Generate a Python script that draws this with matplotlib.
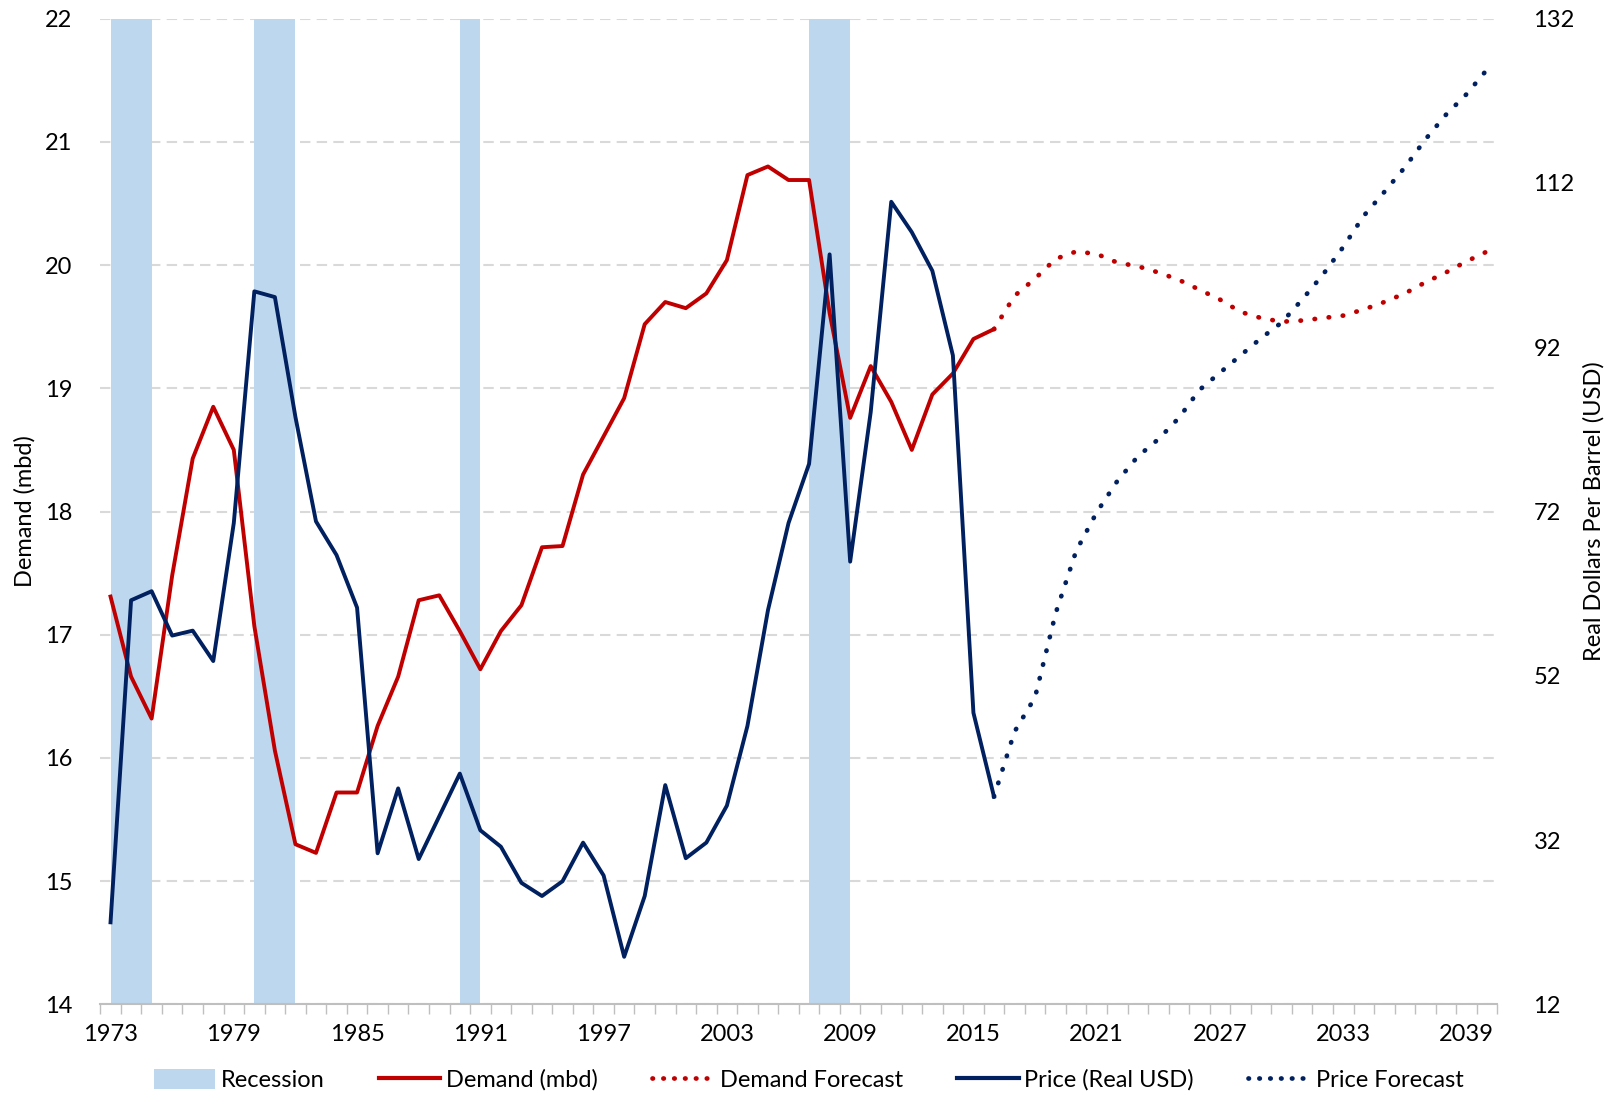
import matplotlib
matplotlib.use("Agg")
import matplotlib.pyplot as plt
from matplotlib.patches import Patch
from matplotlib.lines import Line2D

plt.rcParams['font.family'] = ['Lato', 'DejaVu Sans']

# Historical data
years = list(range(1973, 2017))
demand = [17.31, 16.66, 16.32, 17.48, 18.43, 18.85, 18.50, 17.07, 16.06, 15.30,
          15.23, 15.72, 15.72, 16.26, 16.66, 17.28, 17.32, 17.03, 16.72, 17.03,
          17.24, 17.71, 17.72, 18.30, 18.61, 18.92, 19.52, 19.70, 19.65, 19.77,
          20.04, 20.73, 20.80, 20.69, 20.69, 19.61, 18.76, 19.18, 18.89, 18.50,
          18.95, 19.12, 19.40, 19.48]
price = [22.0, 61.2, 62.3, 56.9, 57.5, 53.8, 70.6, 98.8, 98.1, 83.5,
         70.8, 66.7, 60.3, 30.4, 38.3, 29.7, 34.9, 40.1, 33.2, 31.2,
         26.8, 25.2, 27.0, 31.7, 27.7, 17.8, 25.2, 38.7, 29.8, 31.7,
         36.2, 45.9, 60.0, 70.6, 77.8, 103.3, 65.9, 84.1, 109.7, 106.0,
         101.3, 91.0, 47.5, 37.3]

# Forecasts
fc_years = list(range(2016, 2041))
demand_fc = [19.48, 19.75, 19.89, 20.05, 20.11, 20.09, 20.02, 19.99, 19.94, 19.88,
             19.80, 19.72, 19.62, 19.57, 19.54, 19.55, 19.57, 19.59, 19.64, 19.70,
             19.77, 19.86, 19.94, 20.03, 20.11]
price_fc = [37.3, 45.2, 49.4, 59.6, 67.2, 71.9, 75.7, 78.7, 80.8, 83.4,
            86.8, 88.9, 91.0, 93.1, 95.0, 97.8, 100.8, 104.2, 108.0, 110.9,
            113.9, 117.3, 120.3, 122.8, 125.8]

# Recessions
rec_start = [1973, 1980, 1990, 2007]
rec_end = [1975, 1982, 1991, 2009]

red = '#C00000'
navy = '#002060'
rec_color = '#BDD7EE'
fs = 17
dots = (0, (0.1, 2.9))

fig = plt.figure(figsize=(16.17, 10.93), dpi=100)
ax = fig.add_axes([0.062, 0.081, 0.864, 0.902])
ax2 = ax.twinx()

for s, e in zip(rec_start, rec_end):
    ax.axvspan(s, e, color=rec_color, lw=0, zorder=1)

ax.plot(years, demand, color=red, lw=2.8, zorder=3)
ax.plot(fc_years, demand_fc, color=red, lw=3.4, linestyle=dots,
        dash_capstyle='round', zorder=3)
ax2.plot(years, price, color=navy, lw=2.8, zorder=3)
ax2.plot(fc_years, price_fc, color=navy, lw=3.4, linestyle=dots,
         dash_capstyle='round', zorder=3)

ax.set_xlim(1972.5, 2040.5)
ax.set_ylim(14, 22)
ax2.set_ylim(12, 132)
ax.set_yticks(range(14, 23))
ax2.set_yticks(range(12, 133, 20))
ax.set_xticks(range(1973, 2041, 6))
ax.set_xticks([y + 0.5 for y in range(1972, 2041)], minor=True)

ax.set_axisbelow(True)
ax.grid(axis='y', color='#D9D9D9', linestyle=(0, (5, 3)), lw=1.5, zorder=0)
ax.grid(axis='x', visible=False)

for a in (ax, ax2):
    for sp in ('top', 'left', 'right', 'bottom'):
        a.spines[sp].set_visible(False)
ax.spines['bottom'].set_visible(True)
ax.spines['bottom'].set_color('#BFBFBF')
ax.spines['bottom'].set_linewidth(1.5)

ax.tick_params(axis='y', length=0, labelsize=fs, pad=20)
ax2.tick_params(axis='y', length=0, labelsize=fs, pad=26)
ax.tick_params(axis='x', which='major', length=0, labelsize=fs, pad=14)
ax.tick_params(axis='x', which='minor', length=7, width=1, color='#BFBFBF')

ax.set_ylabel('Demand (mbd)', fontsize=fs)
ax2.set_ylabel('Real Dollars Per Barrel (USD)', fontsize=fs)
ax.yaxis.set_label_coords(-0.046, 0.5)
ax2.yaxis.set_label_coords(1.061, 0.5)

handles = [
    Patch(facecolor=rec_color, edgecolor='none'),
    Line2D([], [], color=red, lw=3),
    Line2D([], [], color=red, lw=3.4, linestyle=(0, (0.1, 2.2)), dash_capstyle='round'),
    Line2D([], [], color=navy, lw=3),
    Line2D([], [], color=navy, lw=3.4, linestyle=(0, (0.1, 2.2)), dash_capstyle='round'),
]
labels = ['Recession', 'Demand (mbd)', 'Demand Forecast', 'Price (Real USD)', 'Price Forecast']
fig.legend(handles, labels, loc='center', bbox_to_anchor=(0.5, 0.012), ncol=5,
           frameon=False, fontsize=fs, handlelength=2.6, handleheight=0.9,
           handletextpad=0.25, columnspacing=2.3)

fig.savefig('out.png', dpi=100)
